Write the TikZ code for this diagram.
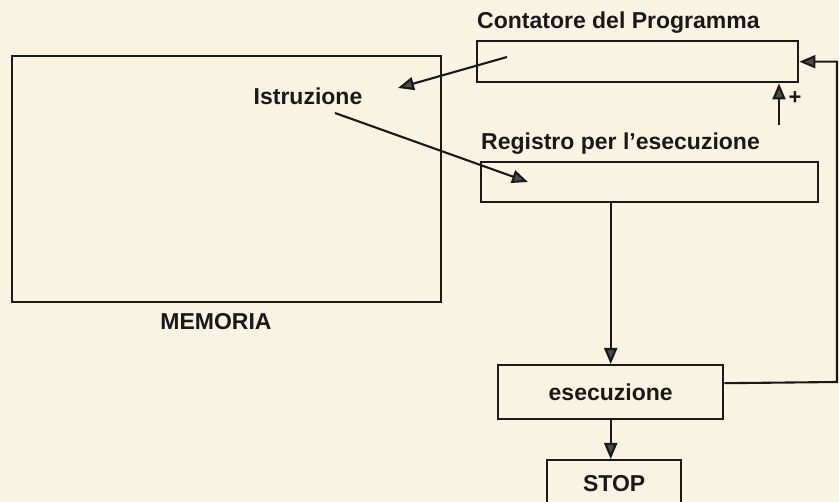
\documentclass[tikz,border=0pt]{standalone}
\usepackage{fontspec}
\setmainfont{Liberation Sans}
\usetikzlibrary{arrows.meta}
\definecolor{carta}{RGB}{249,244,226}
\definecolor{tratto}{RGB}{25,25,25}
\definecolor{punta}{RGB}{75,75,75}

\begin{document}
\begin{tikzpicture}[x=1pt, y=-1pt, line width=2.4pt, draw=tratto,
    box/.style={draw=tratto, line width=2.4pt, rectangle, inner sep=0pt, anchor=north west},
    etich/.style={font=\fontsize{23}{26}\selectfont\bfseries, text=tratto, inner sep=0pt},
    freccia/.style={draw=tratto, line width=2.1pt, -{Triangle[length=16pt, width=13pt, fill=punta]}}]

    % Sfondo
    \useasboundingbox (0,0) rectangle (839,502);
    \fill[carta] (0,0) rectangle (839,502);
    \clip (0,0) rectangle (839,502);

    % Memoria
    \node[box, minimum width=429pt, minimum height=246pt] (mem) at (11,55) {};
    \node[etich] (memlab) at (216,322) {MEMORIA};
    \node[etich] (istr) at (308,96) {Istruzione};

    % Contatore del Programma
    \node[box, minimum width=321pt, minimum height=41pt] (cont) at (476,40) {};
    \node[etich, anchor=base west] (contlab) at (476,29) {Contatore del Programma};

    % Registro per l'esecuzione
    \node[box, minimum width=337pt, minimum height=40pt] (reg) at (480,161) {};
    \node[etich, anchor=base west] (reglab) at (480,150) {Registro per l'esecuzione};

    % Esecuzione e stop
    \node[box, etich, minimum width=225pt, minimum height=54pt] (esec) at (497,364) {esecuzione};
    \node[box, etich, minimum width=134pt, minimum height=46pt] (stop) at (546,459) {STOP};

    % Frecce istruzione
    \coordinate (pc) at (507,57);
    \coordinate (pm) at (398,88);
    \draw[freccia] (pc) -- (pm);
    \coordinate (pi) at (335,113);
    \coordinate (pr) at (528,182);
    \draw[freccia] (pi) -- (pr);

    % Flusso verso il basso
    \draw[freccia] (esec.north |- reg.south) -- (esec.north);
    \draw[freccia] (esec.south) -- (esec.south |- stop.north);

    % Ritorno al contatore
    \coordinate (rit) at (837,382);
    \draw[freccia] ([yshift=9pt]esec.east) -- (rit) |- (cont.east);

    % Incremento
    \coordinate (inc) at (779,125);
    \draw[freccia] (inc) -- (inc |- cont.south);
    \node[etich, font=\fontsize{22}{24}\selectfont\bfseries] (piu) at (795,98) {+};
\end{tikzpicture}
\end{document}
